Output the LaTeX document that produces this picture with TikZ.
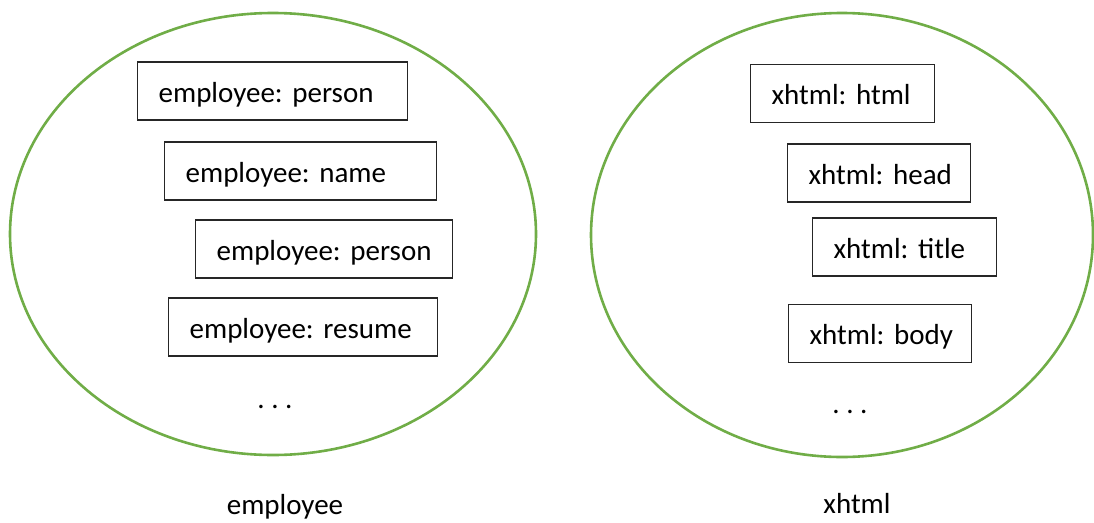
\documentclass[tikz,border=0pt]{standalone}
\usepackage{fontspec}
\setmainfont{Carlito}
\usetikzlibrary{shapes.geometric}
\definecolor{setgreen}{HTML}{70AD47}
\begin{document}
\frenchspacing
\begin{tikzpicture}[x=1pt,y=-1pt,
  nsring/.style={draw=setgreen,line width=2.6pt,ellipse,inner sep=0pt},
  elembox/.style={draw=black!85,line width=1.3pt,rectangle,
    inner xsep=21pt,inner ysep=0pt,minimum height=58pt,
    text height=24pt,text depth=2pt,
    align=left,anchor=west,font=\fontsize{29}{34}\selectfont},
  plain/.style={inner sep=0pt,font=\fontsize{29}{34}\selectfont}]
\useasboundingbox (0,0) rectangle (1094,522);

% namespace rings
\node[nsring,minimum width=526pt,minimum height=442pt] (empring) at (273,234) {};
\node[nsring,minimum width=502pt,minimum height=444pt] (xring) at (842,235) {};

% employee namespace elements
\node[elembox,text width=228pt] (e1) at (137,91) {\mbox{employee: person}};
\node[elembox,text width=230pt] (e2) at (164,171) {\mbox{employee: name}};
\node[elembox,text width=215pt] (e3) at (195,249) {\mbox{employee: person}};
\node[elembox,text width=227pt] (e4) at (168,327) {\mbox{employee: resume}};
\node[plain] (edots) at (275,407) {. . .};

% xhtml namespace elements
\node[elembox,text width=142pt] (x1) at (750,93.5) {\mbox{xhtml: html}};
\node[elembox,text width=141pt] (x2) at (787,173) {\mbox{xhtml: head}};
\node[elembox,text width=142pt] (x3) at (812,247) {\mbox{xhtml: title}};
\node[elembox,text width=141pt] (x4) at (788,333.5) {\mbox{xhtml: body}};
\node[plain] (xdots) at (850,412) {. . .};

% namespace names
\node[plain,anchor=base] (empname) at (285,514) {employee};
\node[plain,anchor=base] (xname) at (857,513) {xhtml};
\end{tikzpicture}
\end{document}
